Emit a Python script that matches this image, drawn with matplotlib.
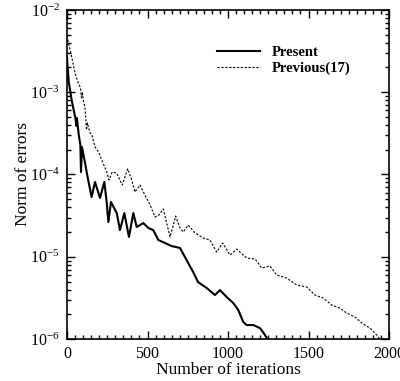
import numpy as np
import matplotlib.pyplot as plt
from matplotlib.ticker import MultipleLocator, LogLocator, NullFormatter

plt.rcParams['font.family'] = ['Liberation Serif', 'DejaVu Serif']
plt.rcParams['mathtext.fontset'] = 'cm'

# values
present_iter = [0, 11, 31, 52, 59, 62, 73, 83, 87, 93, 112, 129, 153, 174, 205,
                232, 247, 257, 273, 309, 329, 356, 385, 412, 433, 474, 505, 536,
                567, 609, 650, 702, 743, 784, 814, 868, 919, 950, 992, 1033,
                1064, 1095, 1116, 1157, 1199, 1230, 1244]
present_err = [2.61e-3, 1.33e-3, 7.6e-4, 4.86e-4, 3.89e-4, 4.86e-4, 3.02e-4,
               2.29e-4, 1.07e-4, 2.16e-4, 1.38e-4, 9.06e-5, 5.32e-5, 8.11e-5,
               5.18e-5, 8.11e-5, 4.50e-5, 2.64e-5, 4.63e-5, 3.40e-5, 2.11e-5,
               3.40e-5, 1.74e-5, 3.40e-5, 2.30e-5, 2.57e-5, 2.24e-5, 2.11e-5,
               1.60e-5, 1.47e-5, 1.35e-5, 1.28e-5, 9.1e-6, 6.5e-6, 4.93e-6,
               4.17e-6, 3.43e-6, 3.94e-6, 3.24e-6, 2.74e-6, 2.25e-6, 1.61e-6,
               1.48e-6, 1.48e-6, 1.36e-6, 1.12e-6, 1.0e-6]

previous_iter = [0, 12, 29, 50, 70, 84, 90, 96, 101, 112, 121, 127, 143, 155,
                 174, 197, 216, 247, 261, 281, 309, 343, 377, 402, 422, 453,
                 484, 516, 547, 571, 598, 619, 640, 675, 702, 722, 753, 795,
                 847, 888, 930, 967, 1012, 1054, 1116, 1168, 1209, 1261, 1302,
                 1364, 1427, 1489, 1540, 1592, 1644, 1696, 1737, 1789, 1840,
                 1882, 1924, 1944]
previous_err = [4.83e-3, 3.75e-3, 2.69e-3, 1.71e-3, 1.29e-3, 1.13e-3, 8.5e-4,
                1.0e-3, 8.05e-4, 6.46e-4, 3.48e-4, 4.23e-4, 3.2e-4, 3.02e-4,
                2.16e-4, 1.87e-4, 1.5e-4, 1.07e-4, 8.57e-5, 1.07e-4, 1.04e-4,
                7.45e-5, 1.17e-4, 8.57e-5, 6.12e-5, 7.45e-5, 5.64e-5, 4.26e-5,
                3.04e-5, 3.22e-5, 3.81e-5, 2.57e-5, 1.74e-5, 3.13e-5, 2.24e-5,
                2.0e-5, 2.43e-5, 1.95e-5, 1.69e-5, 1.6e-5, 1.14e-5, 1.47e-5,
                1.05e-5, 1.24e-5, 9.66e-6, 9.4e-6, 7.3e-6, 7.73e-6, 6.0e-6,
                5.52e-6, 4.54e-6, 4.29e-6, 3.43e-6, 3.16e-6, 2.59e-6, 2.38e-6,
                2.07e-6, 1.85e-6, 1.52e-6, 1.36e-6, 1.12e-6, 1.0e-6]

fig = plt.figure(figsize=(4.0, 3.81), dpi=100)
ax = fig.add_axes([0.1675, 0.110, 0.805, 0.864])

ax.plot(present_iter, present_err, color='black', lw=1.5, label='Present')
ax.plot(previous_iter, previous_err, color='black', lw=0.8,
        linestyle=(0, (2, 1.5)), label='Previous(17)')

ax.set_yscale('log')
ax.set_xlim(0, 2000)
ax.set_ylim(1e-6, 1e-2)
ax.xaxis.set_major_locator(MultipleLocator(500))
ax.xaxis.set_minor_locator(MultipleLocator(50))
ax.yaxis.set_major_locator(LogLocator(base=10))
ax.yaxis.set_minor_locator(LogLocator(base=10, subs=np.arange(2, 10)))
ax.yaxis.set_minor_formatter(NullFormatter())
ax.tick_params(which='both', direction='in', top=True, right=True,
               labelsize=11.5, width=1.0)
ax.tick_params(which='major', length=6, pad=5)
ax.tick_params(which='minor', length=3)
for s in ax.spines.values():
    s.set_linewidth(1.2)

ax.set_xlabel('Number of iterations', fontsize=12.5, labelpad=0)
ax.set_ylabel('Norm of errors', fontsize=12.5)
ax.yaxis.set_label_coords(-0.112, 0.5)

ax.legend(loc='upper right', bbox_to_anchor=(0.92, 0.93), frameon=False,
          handlelength=2.9, handletextpad=0.8, labelspacing=0.15,
          prop={'weight': 'bold', 'size': 10.5})

fig.savefig('out.png', dpi=100)
